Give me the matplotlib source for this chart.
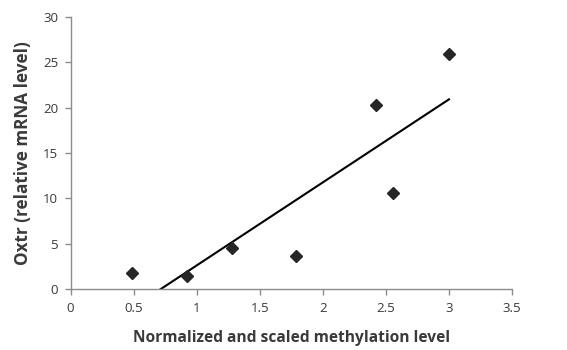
import numpy as np
import matplotlib.pyplot as plt

# methylation level vs Oxtr expression
methylation = [0.49, 0.92, 1.28, 1.79, 2.42, 2.56, 3.00]
oxtr_mrna = [1.75, 1.4, 4.55, 3.7, 20.3, 10.65, 25.95]

x_ticks = [0, 0.5, 1, 1.5, 2, 2.5, 3, 3.5]
x_tick_labels = ['0', '0.5', '1', '1.5', '2', '2.5', '3', '3.5']
y_ticks = [0, 5, 10, 15, 20, 25, 30]

plt.rcParams['font.family'] = ['Open Sans', 'DejaVu Sans']

fig = plt.figure(figsize=(5.67, 3.5), dpi=100)
ax = fig.add_axes([0.1245, 0.174, 0.7785, 0.777])

# linear trendline over the data range (clipped at y=0 by the axis)
slope, intercept = np.polyfit(methylation, oxtr_mrna, 1)
xs = np.array([min(methylation), max(methylation)])
ax.plot(xs, slope * xs + intercept, color='black', linewidth=1.5, zorder=2)

ax.plot(methylation, oxtr_mrna, linestyle='none', marker='D', markersize=6.3,
        color='#262626', zorder=3)

ax.set_xlim(0, 3.5)
ax.set_ylim(0, 30)
ax.set_xticks(x_ticks)
ax.set_xticklabels(x_tick_labels)
ax.set_yticks(y_ticks)

for side in ['top', 'right']:
    ax.spines[side].set_visible(False)
for side in ['left', 'bottom']:
    ax.spines[side].set_color('#8c8c8c')
    ax.spines[side].set_linewidth(1.0)
ax.tick_params(axis='both', colors='#8c8c8c', labelcolor='#3a3a3a',
               labelsize=9.5, length=4, width=1.0, direction='out')
ax.tick_params(axis='x', pad=5)
ax.tick_params(axis='y', pad=5)

ax.set_xlabel('Normalized and scaled methylation level', fontsize=11.2,
              fontweight='bold', color='#3a3a3a', labelpad=11)
ax.set_ylabel('Oxtr (relative mRNA level)', fontsize=12.3,
              fontweight='bold', color='#3a3a3a', labelpad=8)

fig.savefig('out.png', dpi=100)
